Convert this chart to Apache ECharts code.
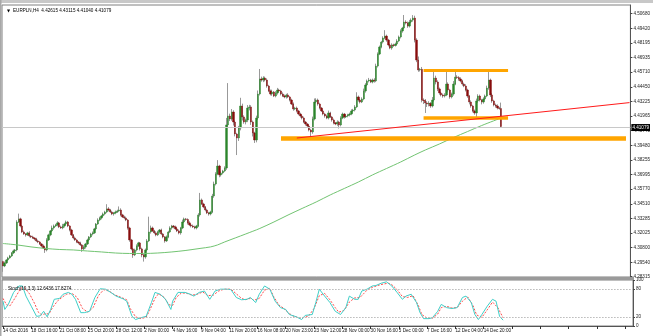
<!DOCTYPE html>
<html><head><meta charset="utf-8">
<script src="https://cdn.jsdelivr.net/npm/echarts@6/dist/echarts.min.js"></script>
<style>html,body{margin:0;padding:0;background:#fff}#c{width:653px;height:336px}</style>
</head><body><div id="c"></div>
<script>
const symbolTitle = 'EURPLN,H4  4.42615 4.43115 4.41040 4.41079';
const stochTitle = 'Stoch(10,3,3) 12.6436 17.8274';
const firstOpen = 4.2960;
// H4 closes (open of each bar = previous close)
const closes = [
4.2923,4.2948,4.2974,4.2991,4.3008,4.3034,4.3051,4.3059,4.3297,4.3323,
4.3263,4.3212,4.3195,4.3187,4.3204,4.3178,4.3170,4.3161,4.3153,4.3136,
4.3127,4.3110,4.3093,4.3076,4.3059,4.3144,4.3187,4.3221,4.3246,4.3263,
4.3272,4.3289,4.3255,4.3246,4.3263,4.3280,4.3297,4.3263,4.3229,4.3187,
4.3161,4.3144,4.3127,4.3119,4.3102,4.3068,4.3085,4.3110,4.3144,4.3170,
4.3195,4.3204,4.3238,4.3280,4.3314,4.3331,4.3348,4.3365,4.3382,4.3408,
4.3399,4.3382,4.3365,4.3374,4.3382,4.3391,4.3399,4.3357,4.3340,4.3331,
4.3314,4.3246,4.3144,4.3068,4.3017,4.3059,4.3093,4.3119,4.3068,4.3017,
4.3000,4.3059,4.3136,4.3212,4.3246,4.3221,4.3204,4.3187,4.3212,4.3229,
4.3195,4.3170,4.3136,4.3170,4.3212,4.3246,4.3263,4.3255,4.3238,4.3221,
4.3204,4.3246,4.3297,4.3323,4.3318,4.3289,4.3272,4.3263,4.3255,4.3246,
4.3263,4.3357,4.3484,4.3450,4.3425,4.3399,4.3374,4.3365,4.3382,4.3518,
4.3620,4.3705,4.3773,4.3697,4.3714,4.3731,4.3756,4.4122,4.4198,4.4173,
4.4232,4.4147,4.4045,4.4011,4.4096,4.4283,4.4190,4.4147,4.4164,4.4266,
4.4275,4.4147,4.4054,4.3994,4.4181,4.4385,4.4513,4.4504,4.4521,4.4504,
4.4453,4.4411,4.4385,4.4402,4.4368,4.4394,4.4419,4.4411,4.4385,4.4368,
4.4360,4.4377,4.4360,4.4334,4.4300,4.4258,4.4266,4.4241,4.4215,4.4198,
4.4181,4.4147,4.4130,4.4113,4.4079,4.4062,4.4173,4.4317,4.4334,4.4300,
4.4266,4.4241,4.4215,4.4198,4.4181,4.4224,4.4190,4.4164,4.4139,4.4130,
4.4147,4.4122,4.4181,4.4215,4.4190,4.4198,4.4207,4.4215,4.4241,4.4249,
4.4275,4.4360,4.4334,4.4317,4.4343,4.4411,4.4462,4.4496,4.4504,4.4487,
4.4504,4.4496,4.4623,4.4725,4.4785,4.4827,4.4861,4.4878,4.4844,4.4802,
4.4776,4.4802,4.4798,4.4810,4.4836,4.4870,4.4921,4.4946,4.4997,4.4989,
4.4963,4.4997,4.5014,4.5031,4.4844,4.4674,4.4589,4.4595,4.4334,4.4330,
4.4309,4.4300,4.4306,4.4283,4.4334,4.4521,4.4487,4.4428,4.4394,4.4377,
4.4368,4.4377,4.4470,4.4419,4.4360,4.4385,4.4470,4.4530,4.4525,4.4513,
4.4496,4.4470,4.4453,4.4419,4.4368,4.4317,4.4283,4.4241,4.4224,4.4326,
4.4368,4.4334,4.4317,4.4343,4.4368,4.4436,4.4504,4.4377,4.4326,4.4292,
4.4283,4.4266,4.4262,4.41079];
// upper and lower shadow lengths in pips (0.0001)
const upWick = [
8,12,6,10,9,7,11,8,15,45,
10,6,12,8,9,14,7,10,6,9,
11,8,7,12,9,15,10,8,20,12,
9,14,8,11,18,10,12,9,7,10,
8,12,9,6,10,8,14,9,11,7,
10,12,9,8,14,11,9,12,10,40,
15,9,11,8,12,10,30,14,9,10,
12,8,10,9,7,11,14,9,8,10,
9,12,15,130,20,12,9,14,10,8,
11,9,7,12,10,14,9,8,11,10,
12,9,20,11,8,10,14,9,12,10,
9,15,60,12,10,8,11,9,10,18,
20,15,50,10,12,9,14,60,280,20,
25,15,12,10,18,70,20,14,12,25,
18,15,12,10,20,30,85,20,15,12,
14,10,12,20,9,15,18,11,10,14,
12,10,15,9,11,13,10,12,9,11,
10,12,9,8,11,10,20,30,15,12,
11,9,13,10,12,20,10,9,12,8,
14,10,15,12,9,11,10,12,14,10,
15,40,12,10,14,20,15,12,18,10,
12,15,20,14,12,10,15,50,12,10,
9,14,11,12,15,12,14,10,60,15,
12,18,14,25,20,15,30,12,20,14,
12,15,18,10,25,68,20,14,12,10,
12,15,120,14,10,12,25,60,15,12,
14,10,12,15,11,9,14,10,12,20,
15,12,10,14,12,20,85,12,15,10,
12,14,10,50];
const downWick = [
50,10,8,12,7,9,10,14,12,9,
12,10,8,14,9,11,10,8,12,9,
10,9,12,8,25,12,9,11,10,14,
9,12,10,8,11,13,9,10,12,9,
11,8,10,12,9,25,10,14,9,11,
10,12,9,11,8,10,12,9,11,10,
12,9,10,14,11,8,10,12,9,11,
10,14,15,12,25,10,12,9,14,20,
40,15,12,10,14,9,11,12,10,14,
10,12,15,9,11,10,14,12,9,10,
12,15,10,9,11,14,10,12,9,11,
12,10,14,9,11,12,10,14,12,10,
15,12,10,20,14,12,10,15,20,18,
15,30,20,145,25,20,30,15,20,18,
20,25,30,25,20,15,12,14,18,12,
14,10,12,15,9,11,14,10,12,9,
11,14,10,12,9,15,10,12,11,14,
12,10,14,15,12,42,15,12,10,14,
12,9,11,14,10,12,9,14,12,10,
15,30,12,10,14,9,11,12,10,14,
12,10,14,12,9,11,14,10,12,9,
11,14,10,12,9,11,12,10,14,12,
10,14,12,9,11,10,12,14,10,12,
15,12,10,14,20,18,15,12,20,30,
85,25,20,15,12,14,20,18,15,12,
14,12,10,20,15,12,14,10,12,15,
12,14,10,12,15,20,14,12,15,35,
15,12,20,14,12,10,14,18,15,12,
14,12,10,4];
// moving average [barIndex, price]
const maPoints = [[0,4.3114],[8,4.3102],[16,4.3085],[24,4.3072],[32,4.3063],[40,4.3059],[48,4.3050],[56,4.3042],[64,4.3033],[72,4.3029],[80,4.3029],[88,4.3033],[96,4.3042],[104,4.3055],[112,4.3072],[118,4.3085],[122,4.3102],[126,4.3127],[132,4.3161],[138,4.3195],[146,4.3242],[154,4.3297],[162,4.3356],[170,4.3412],[178,4.3467],[186,4.3527],[194,4.3582],[202,4.3637],[210,4.3697],[218,4.3752],[226,4.3807],[234,4.3867],[240,4.3909],[248,4.3960],[256,4.4015],[264,4.4066],[272,4.4117],[283,4.4181]];
// stochastic %K and %D [barIndex, value]
const stochK = [[0,54],[1,36],[3,47],[6,73],[9,87],[11,87],[13,65],[16,43],[19,21],[21,22],[23,32],[24,28],[25,20],[27,36],[29,58],[32,60],[34,69],[37,73],[39,69],[41,58],[44,29],[46,29],[49,32],[52,62],[55,81],[58,80],[61,73],[64,65],[68,59],[70,54],[73,21],[75,14],[78,18],[81,21],[84,51],[86,73],[89,69],[92,58],[95,36],[96,54],[99,73],[103,73],[106,69],[108,65],[111,73],[114,76],[117,58],[120,76],[123,80],[127,80],[129,79],[132,62],[135,57],[138,58],[140,62],[143,51],[145,69],[148,87],[151,80],[154,54],[157,40],[160,36],[162,25],[166,20],[169,14],[171,23],[175,25],[177,51],[179,80],[182,65],[185,51],[188,32],[191,25],[194,40],[196,65],[199,58],[201,58],[203,76],[206,80],[209,87],[211,88],[214,93],[217,96],[220,87],[223,73],[226,58],[228,65],[231,69],[234,51],[236,29],[238,16],[241,16],[243,18],[246,32],[248,47],[251,40],[254,38],[257,40],[260,62],[262,65],[265,51],[267,25],[269,14],[271,25],[274,43],[277,58],[279,54],[281,21],[283,12.6436]];
const stochD = [[0,60],[2,46],[4,44],[7,62],[10,82],[12,84],[15,70],[18,48],[20,30],[22,24],[24,27],[26,26],[28,40],[31,55],[34,64],[36,69],[39,71],[42,62],[45,38],[48,30],[51,40],[54,66],[57,79],[60,76],[63,68],[67,62],[70,57],[72,38],[75,20],[78,16],[81,19],[83,34],[86,60],[88,70],[91,63],[94,46],[96,45],[98,62],[101,72],[104,71],[107,67],[110,69],[113,74],[116,66],[119,67],[122,76],[125,80],[129,80],[132,70],[135,60],[137,57],[140,60],[142,56],[145,60],[148,78],[151,82],[153,65],[156,46],[159,38],[161,30],[164,22],[168,17],[171,19],[173,22],[176,38],[179,66],[182,71],[185,57],[188,40],[190,30],[193,34],[196,52],[199,61],[202,62],[204,70],[206,78],[209,84],[212,88],[215,91],[218,93],[220,90],[223,79],[226,64],[229,62],[232,66],[235,45],[237,25],[240,17],[243,17],[246,26],[248,40],[251,43],[254,39],[257,40],[260,54],[263,63],[266,44],[268,24],[271,19],[274,35],[277,52],[280,40],[283,17.8274]];
const xLabels = ['14 Oct 2016','18 Oct 16:00','21 Oct 08:00','25 Oct 20:00','28 Oct 12:00','2 Nov 00:00','4 Nov 16:00','9 Nov 04:00','11 Nov 20:00','16 Nov 08:00','20 Nov 23:00','23 Nov 12:00','28 Nov 00:00','30 Nov 16:00','5 Dec 00:00','7 Dec 16:00','12 Dec 04:00','14 Dec 20:00'];
const xLabelStep = 16;
const priceTicks = [4.28315,4.29540,4.30800,4.32025,4.33285,4.34510,4.35770,4.36995,4.38255,4.39480,4.40740,4.41965,4.43225,4.44450,4.45710,4.46935,4.48195,4.49420,4.50680];
const stochTicks = [0,20,80,100];
const lastPrice = 4.41079;
const redTrend = [[167,4.4011],[356,4.4312]];
const rangeTop = [[239,4.4589],[287,4.4589]];
const rangeBottom = [[239,4.4185],[287,4.4185]];
const supportLine = [[158,4.4009],[354,4.4009]];
const totalSlots = 357;

const cats = Array.from({length: totalSlots}, (_, i) => String(i));
const ohlc = closes.map((c, i) => {
  const o = i === 0 ? firstOpen : closes[i - 1];
  return [o, c, Math.min(o, c) - downWick[i] * 0.0001, Math.max(o, c) + upWick[i] * 0.0001];
});
const bodies = ohlc.map(d => [d[0], d[1], Math.min(d[0], d[1]), Math.max(d[0], d[1])]);
const seg = (p, color, width) => [
  {coord: [String(p[0][0]), p[0][1]], lineStyle: {color, width, type: 'solid'}},
  {coord: [String(p[1][0]), p[1][1]]}
];
const FONT = 'Liberation Sans';
const chart = echarts.init(document.getElementById('c'), null, {renderer: 'canvas'});
chart.setOption({
  animation: false,
  backgroundColor: '#fff',
  textStyle: {fontFamily: FONT},
  title: [
    {text: '▼', left: 2, top: 4, textStyle: {fontSize: 4, color: '#000', fontFamily: 'DejaVu Sans'}},
    {text: symbolTitle, left: 8, top: 3, textStyle: {fontSize: 4.6, color: '#000', fontWeight: 'normal', fontFamily: FONT}},
    {text: stochTitle, left: 3, top: 281, textStyle: {fontSize: 4.6, color: '#000', fontWeight: 'normal', fontFamily: FONT}}
  ],
  graphic: [
    {type: 'rect', shape: {x: 0, y: 0, width: 653, height: 3}, style: {fill: '#c8c8c8'}, silent: true},
    {type: 'rect', shape: {x: 0, y: 0, width: 1.5, height: 336}, style: {fill: '#a8a8a8'}, silent: true},
    {type: 'rect', shape: {x: 2, y: 277, width: 632, height: 3}, style: {fill: '#9a9a9a'}, silent: true, z: 100}
  ],
  grid: [
    {left: 2, right: 20, top: 5, height: 272, show: true, borderColor: '#808080', borderWidth: 1},
    {left: 2, right: 20, top: 280, height: 46, show: true, borderColor: '#808080', borderWidth: 1}
  ],
  xAxis: [
    {type: 'category', gridIndex: 0, data: cats, boundaryGap: true,
     axisLine: {show: false}, axisTick: {show: false}, axisLabel: {show: false}, splitLine: {show: false}},
    {type: 'category', gridIndex: 1, data: cats, boundaryGap: true,
     axisLine: {show: true, lineStyle: {color: '#555'}},
     axisTick: {show: true, interval: xLabelStep - 1, alignWithLabel: true, length: 3, lineStyle: {color: '#333'}},
     axisLabel: {show: true, interval: xLabelStep - 1, align: 'left', margin: 2, fontSize: 4.6, color: '#111', fontFamily: FONT,
       formatter: (v, idx) => { const k = idx / xLabelStep; return (Number.isInteger(k) && k < xLabels.length) ? xLabels[k] : ''; }},
     splitLine: {show: false}}
  ],
  yAxis: [
    {type: 'value', gridIndex: 0, position: 'right', min: 4.2829, max: 4.5142, scale: true,
     axisLine: {show: true, lineStyle: {color: '#555'}},
     axisTick: {show: true, length: 2, customValues: priceTicks, lineStyle: {color: '#444'}},
     axisLabel: {show: true, margin: 3, fontSize: 4.6, color: '#222', fontFamily: FONT, customValues: priceTicks,
       formatter: v => Number(v).toFixed(5)},
     splitLine: {show: false}},
    {type: 'value', gridIndex: 1, position: 'right', min: 0, max: 100,
     axisLine: {show: true, lineStyle: {color: '#555'}},
     axisTick: {show: true, length: 2, customValues: stochTicks, lineStyle: {color: '#444'}},
     axisLabel: {show: true, margin: 3, fontSize: 4.6, color: '#222', fontFamily: FONT, customValues: stochTicks},
     splitLine: {show: false}}
  ],
  series: [
    {name: 'wicks', type: 'candlestick', xAxisIndex: 0, yAxisIndex: 0, data: ohlc, barWidth: 1, silent: true,
     itemStyle: {color: '#999', color0: '#999', borderColor: '#999', borderColor0: '#999', borderColorDoji: '#999', borderWidth: 1}},
    {name: 'bodies', type: 'candlestick', xAxisIndex: 0, yAxisIndex: 0, data: bodies, barWidth: 1.8, silent: true,
     itemStyle: {color: '#2b852b', color0: '#870c0c', borderColor: '#2b852b', borderColor0: '#870c0c', borderColorDoji: '#888', borderWidth: 0.4},
     markLine: {silent: true, symbol: ['none', 'none'], animation: false,
       label: {show: false},
       data: [
         {yAxis: lastPrice, lineStyle: {color: '#c8c8c8', width: 1, type: 'solid'},
          label: {show: true, position: 'end', distance: 1, formatter: lastPrice.toFixed(5), backgroundColor: '#000', color: '#fff', fontSize: 4.6, padding: [1, 1], fontFamily: FONT}},
         seg(supportLine, '#ffa500', 4.5),
         seg(rangeTop, '#ffa500', 3),
         seg(rangeBottom, '#ffa500', 3.5),
         seg(redTrend, '#ff1a1a', 1)
       ]}},
    {name: 'MA', type: 'line', xAxisIndex: 0, yAxisIndex: 0, data: maPoints, showSymbol: false, symbol: 'none', smooth: 0.3,
     lineStyle: {color: '#72c472', width: 1}, silent: true, z: 3},
    {name: '%K', type: 'line', xAxisIndex: 1, yAxisIndex: 1, data: stochK, symbol: 'none', showSymbol: false,
     lineStyle: {color: '#3fcfc8', width: 1}, silent: true, z: 4},
    {name: '%D', type: 'line', xAxisIndex: 1, yAxisIndex: 1, data: stochD, symbol: 'none', showSymbol: false,
     lineStyle: {color: '#ff4a4a', width: 1, type: [2, 1.5]}, silent: true, z: 3,
     markLine: {silent: true, symbol: ['none', 'none'], label: {show: false},
       lineStyle: {color: '#b8b8b8', type: [1.5, 1.5], width: 1},
       data: [{yAxis: 20}, {yAxis: 80}]}}
  ]
});
</script></body></html>
